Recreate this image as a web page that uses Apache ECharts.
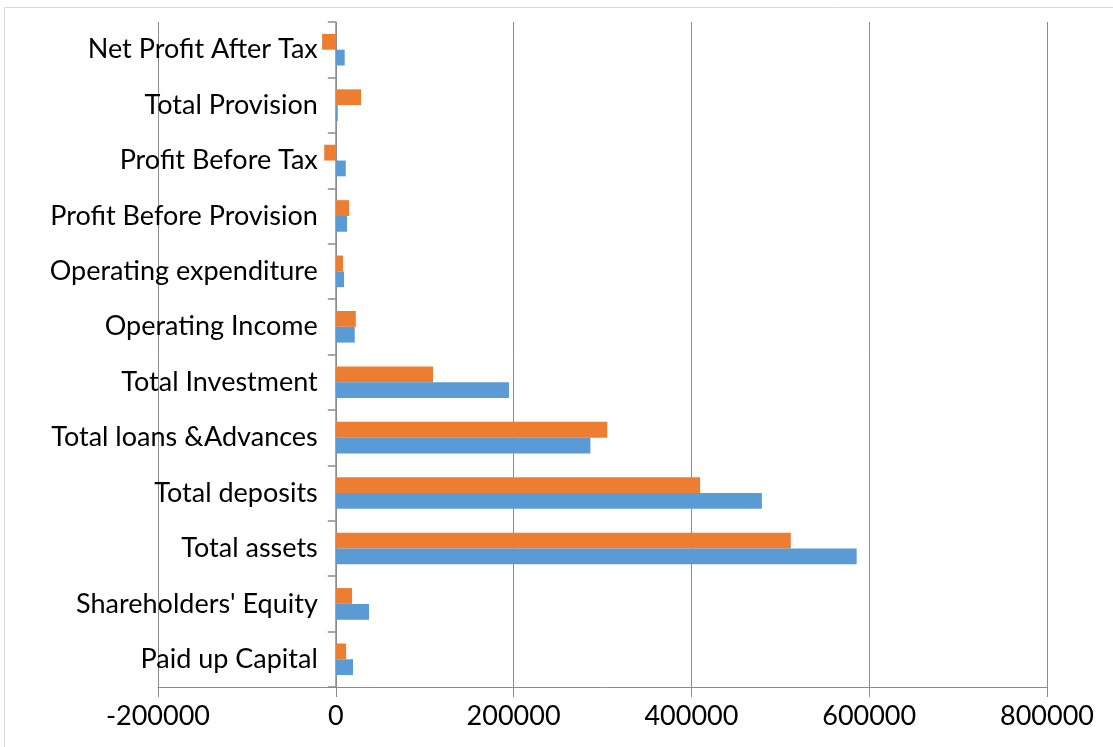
<!DOCTYPE html>
<html><head><meta charset="utf-8">
<script src="https://cdn.jsdelivr.net/npm/echarts@6/dist/echarts.min.js"></script>
<style>html,body{margin:0;padding:0;background:#fff}#c{width:1113px;height:747px}</style>
</head><body><div id="c"></div>
<script>
const categories = ["Paid up Capital","Shareholders' Equity","Total assets","Total deposits","Total loans &Advances","Total Investment","Operating Income","Operating expenditure","Profit Before Provision","Profit Before Tax","Total Provision","Net Profit After Tax"];
const seriesBlue = [19400, 37400, 585900, 479300, 286400, 194800, 21300, 9300, 12700, 11200, 2200, 10000];
const seriesOrange = [11600, 18300, 511800, 409800, 305400, 109400, 22500, 8200, 15000, -13000, 28500, -15400];
const xTicks = [-200000, 0, 200000, 400000, 600000, 800000];

const chart = echarts.init(document.getElementById('c'));
const font = 'Lato, "Open Sans", sans-serif';
const gridLeft = 158, gridRight = 66;
const plotW = 1113 - gridLeft - gridRight;
const zeroOffset = plotW * (0 - xTicks[0]) / (xTicks[xTicks.length-1] - xTicks[0]);
chart.setOption({
  animation: false,
  graphic: [{type:'rect', shape:{x:4.5,y:7.5,width:1200,height:800}, style:{fill:'none', stroke:'#d9d9d9', lineWidth:1}, silent:true, z:-1}],
  grid: {left:gridLeft, right:gridRight, top:22, bottom:60, containLabel:false, outerBoundsMode:'none'},
  xAxis: {
    type:'value', min:xTicks[0], max:xTicks[xTicks.length-1], interval:200000,
    axisLine:{show:true, onZero:false, lineStyle:{color:'#8c8c8c', width:1}},
    axisTick:{show:true, length:10, lineStyle:{color:'#8c8c8c'}},
    axisLabel:{color:'#000', fontSize:27, fontFamily:font, margin:16, formatter:(v)=>String(v)},
    splitLine:{show:true, lineStyle:{color:'#8c8c8c', width:1}}
  },
  yAxis: {
    type:'category', data:categories, offset: -zeroOffset,
    axisLine:{show:true, onZero:false, lineStyle:{color:'#8c8c8c', width:1.5}},
    axisTick:{show:true, length:8, lineStyle:{color:'#8c8c8c', width:1.5}},
    axisLabel:{color:'#000', fontSize:27, fontFamily:font, margin:18},
    splitLine:{show:false}
  },
  series: [
    {type:'bar', data:seriesOrange, itemStyle:{color:'#ED7D31'}, barGap:'0%', barCategoryGap:'43%'},
    {type:'bar', data:seriesBlue, itemStyle:{color:'#5B9BD5'}, barGap:'0%', barCategoryGap:'43%'}
  ]
});
</script></body></html>
